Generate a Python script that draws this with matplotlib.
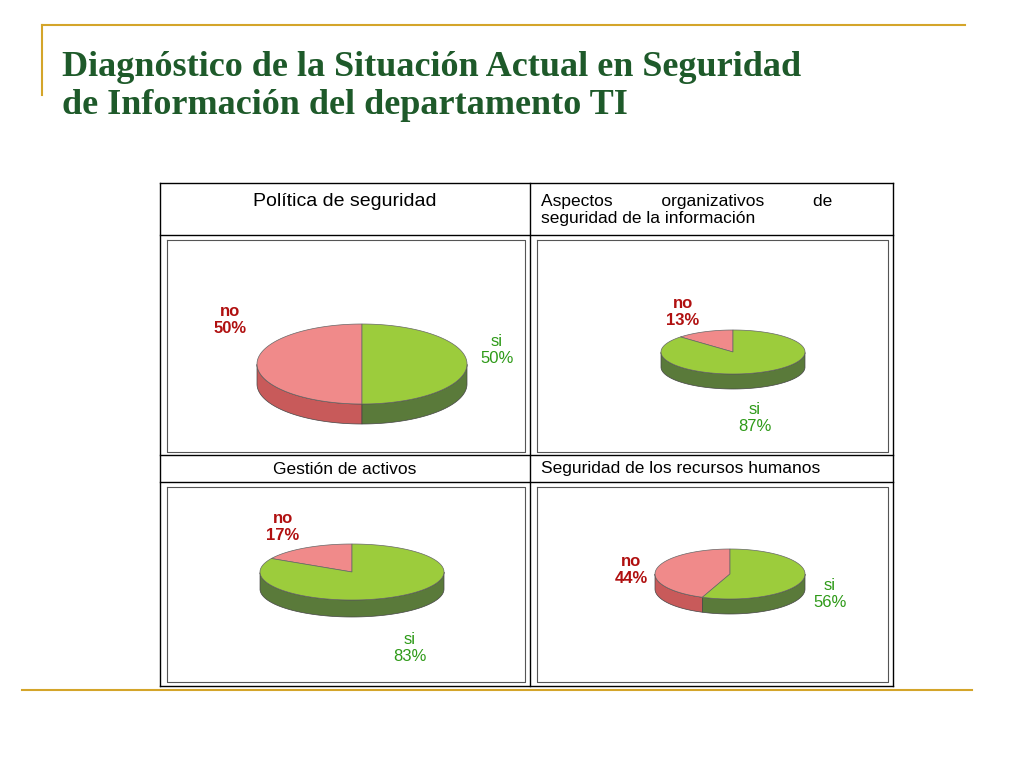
import numpy as np
import matplotlib
matplotlib.use("Agg")
from matplotlib import pyplot as plt
from matplotlib.patches import Polygon

plt.rcParams["font.family"] = "Liberation Sans"

TITLE = "Diagnóstico de la Situación Actual en Seguridad\nde Información del departamento TI"
PANELS = [
    "Política de seguridad",
    "Aspectos organizativos de\nseguridad de la información",
    "Gestión de activos",
    "Seguridad de los recursos humanos",
]
SI_VALUES = [50, 87, 83, 56]
NO_VALUES = [50, 13, 17, 44]

GOLD = "#d4a52a"
GREEN_TOP, GREEN_SIDE = "#9ccc3c", "#5a7a3a"
RED_TOP, RED_SIDE = "#f08a8a", "#c85a5a"

# pie geometry in pixel space: cx, cy, rx, ry, thickness
GEOM = [(362, 364, 105, 40, 20), (733, 352, 72, 22, 15),
        (352, 572, 92, 28, 17), (730, 574, 75, 25, 15)]
# label positions: (no_x, no_y, si_x, si_y)
LABELS = [(230, 320, 497, 350), (683, 312, 755, 418),
          (283, 527, 410, 648), (631, 570, 830, 594)]

fig = plt.figure(figsize=(10.24, 7.68), dpi=100)
ax = fig.add_axes([0, 0, 1, 1])
ax.set_xlim(0, 1024)
ax.set_ylim(768, 0)
ax.axis("off")

# slide decoration
ax.plot([42, 965], [25, 25], color=GOLD, lw=1.5)
ax.plot([42, 42], [25, 95], color=GOLD, lw=1.5)
ax.plot([22, 972], [690, 690], color=GOLD, lw=1.5)
ax.text(62, 87, TITLE, fontsize=26, fontweight="bold", color="#1e5a2a",
        family="Liberation Serif", fontstretch="normal", va="center",
        linespacing=1.2)

# table grid
for x0, x1, y in [(160, 893, 183), (160, 893, 235), (160, 893, 455),
                  (160, 893, 482), (160, 893, 686)]:
    ax.plot([x0, x1], [y, y], color="black", lw=1)
for x in [160, 530, 893]:
    ax.plot([x, x], [183, 686], color="black", lw=1)
for x0, x1, y0, y1 in [(167, 525, 240, 452), (537, 888, 240, 452),
                       (167, 525, 487, 682), (537, 888, 487, 682)]:
    ax.plot([x0, x1, x1, x0, x0], [y0, y0, y1, y1, y0], color="#555555", lw=0.8)

ax.text(345, 201, PANELS[0], fontsize=14, ha="center", va="center")
ax.text(541, 210, "Aspectos          organizativos          de\nseguridad de la información",
        fontsize=12.5, va="center", linespacing=1.1)
ax.text(345, 469, PANELS[2], fontsize=12.5, ha="center", va="center")
ax.text(541, 469, PANELS[3], fontsize=12.5, va="center")


def pie3d(cx, cy, rx, ry, h, no):
    a_no = 90 + 360 * no / 100
    slices = [(90, a_no, RED_TOP, RED_SIDE), (a_no, 450, GREEN_TOP, GREEN_SIDE)]
    for a0, a1, _, side in slices:
        t = np.radians(np.linspace(a0, a1, 200))
        front = t[np.sin(t) <= 0.001]
        if len(front) > 1:
            xs = cx + rx * np.cos(front)
            ys = cy - ry * np.sin(front)
            pts = np.vstack([np.c_[xs, ys], np.c_[xs[::-1], ys[::-1] + h]])
            ax.add_patch(Polygon(pts, closed=True, fc=side, ec="#444444", lw=0.5))
    for a0, a1, top, _ in slices:
        t = np.radians(np.linspace(a0, a1, 200))
        pts = np.vstack([[cx, cy], np.c_[cx + rx * np.cos(t), cy - ry * np.sin(t)]])
        ax.add_patch(Polygon(pts, closed=True, fc=top, ec="#666666", lw=0.5))


for (cx, cy, rx, ry, h), si, no, (nx, ny, sx, sy) in zip(GEOM, SI_VALUES, NO_VALUES, LABELS):
    pie3d(cx, cy, rx, ry, h, no)
    ax.text(nx, ny, "no\n%d%%" % no, fontsize=12, fontweight="bold",
            color="#b01010", ha="center", va="center", linespacing=1.1)
    ax.text(sx, sy, "si\n%d%%" % si, fontsize=12, color="#2e9a18",
            ha="center", va="center", linespacing=1.1)

plt.savefig("out.png", dpi=100)
